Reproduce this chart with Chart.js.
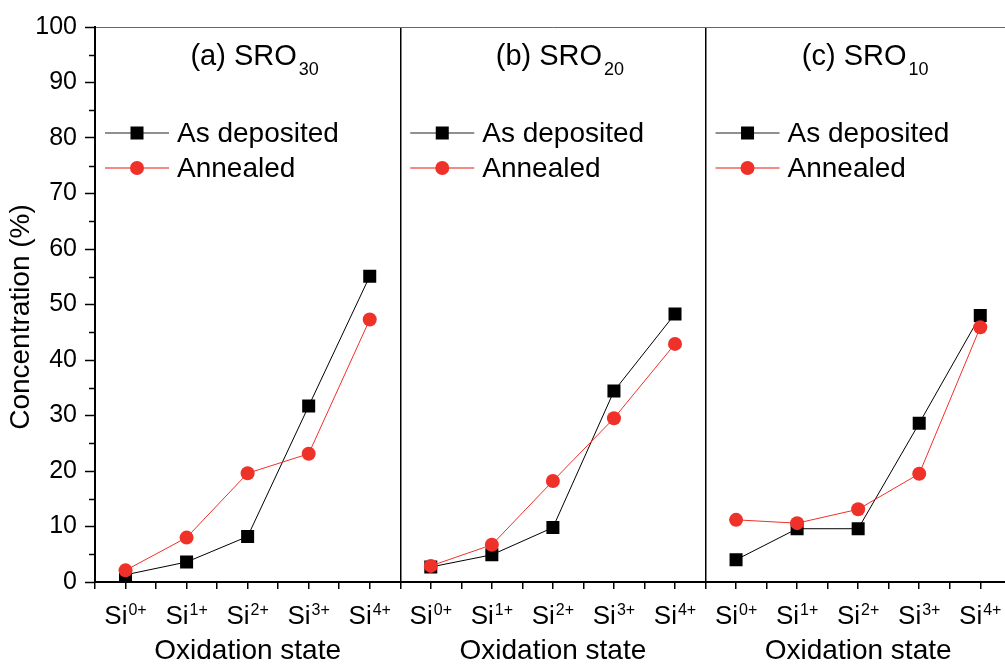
<!DOCTYPE html>
<html><head><meta charset="utf-8">
<script src="https://cdn.jsdelivr.net/npm/chart.js@4/dist/chart.umd.min.js"></script>
<style>
html,body{margin:0;padding:0;background:#fff;overflow:hidden;width:1005px;height:664px}
#wrap{width:1005px;height:664px;overflow:hidden;position:relative}
canvas{display:block}
</style></head><body>
<div id="wrap"><canvas id="c" width="1020" height="664"></canvas></div>
<script>
// ---- data ----
const categories = ['0+', '1+', '2+', '3+', '4+'];
const categoryBase = 'Si';
const panelTitles = ['(a) SRO', '(b) SRO', '(c) SRO'];
const panelSubs = ['30', '20', '10'];
const seriesNames = ['As deposited', 'Annealed'];
const asDepositedA = [1.3, 3.6, 8.2, 31.7, 55.1];
const annealedA    = [2.1, 8.0, 19.6, 23.1, 47.3];
const asDepositedB = [2.7, 4.9, 9.8, 34.4, 48.3];
const annealedB    = [2.9, 6.7, 18.2, 29.5, 42.9];
const asDepositedC = [4.0, 9.6, 9.6, 28.6, 48.0];
const annealedC    = [11.2, 10.6, 13.1, 19.5, 45.9];
const yTickValues = [0, 10, 20, 30, 40, 50, 60, 70, 80, 90, 100];
const xTitle = 'Oxidation state';
const yTitle = 'Concentration (%)';

// ---- build ----
const FONT = "'Liberation Sans', Arial, Helvetica, sans-serif";
const BLACK = '#000000';
const RED = '#ee3129';
const asDep = [asDepositedA, asDepositedB, asDepositedC];
const ann = [annealedA, annealedB, annealedC];
const nCat = categories.length;

const datasets = [];
for (let p = 0; p < 3; p++) {
  datasets.push({
    label: seriesNames[0], order: 1,
    data: asDep[p].map((v, i) => ({x: p * nCat + i, y: v})),
    borderColor: BLACK, backgroundColor: BLACK, borderWidth: 1,
    pointStyle: 'rect', pointRadius: 9.2, pointBorderWidth: 0,
    pointBackgroundColor: BLACK, tension: 0
  });
  datasets.push({
    label: seriesNames[1], order: 0,
    data: ann[p].map((v, i) => ({x: p * nCat + i, y: v})),
    borderColor: RED, backgroundColor: RED, borderWidth: 1,
    pointStyle: 'circle', pointRadius: 7, pointBorderWidth: 0,
    pointBackgroundColor: RED, tension: 0
  });
}

const panelBounds = [nCat - 0.5, 2 * nCat - 0.5];

const decor = {
  id: 'decor',
  afterDraw(chart) {
    const ctx = chart.ctx;
    const xs = chart.scales.x, ys = chart.scales.y;
    const area = chart.chartArea;
    ctx.save();
    // minor y ticks
    ctx.strokeStyle = BLACK; ctx.lineWidth = 1.5;
    for (let v = 5; v < 100; v += 10) {
      const y = Math.round(ys.getPixelForValue(v)) + 0.5;
      ctx.beginPath(); ctx.moveTo(area.left - 6, y); ctx.lineTo(area.left, y); ctx.stroke();
    }
    ctx.fillStyle = BLACK;
    ctx.textBaseline = 'alphabetic';
    for (let p = 0; p < 3; p++) {
      // category labels with superscript
      for (let i = 0; i < nCat; i++) {
        const x = xs.getPixelForValue(p * nCat + i);
        ctx.font = '26px ' + FONT;
        const w1 = ctx.measureText(categoryBase).width;
        ctx.font = '16px ' + FONT;
        const w2 = ctx.measureText(categories[i]).width;
        const start = x - (w1 + w2 + 1) / 2;
        ctx.textAlign = 'left';
        ctx.font = '26px ' + FONT;
        ctx.fillText(categoryBase, start, 624);
        ctx.font = '16px ' + FONT;
        ctx.fillText(categories[i], start + w1 + 1, 615);
      }
      const pl = xs.getPixelForValue(p * nCat - 0.5);
      const pr = xs.getPixelForValue(p * nCat + nCat - 0.5);
      const pc = (pl + pr) / 2;
      // x title
      ctx.textAlign = 'center';
      ctx.font = '28px ' + FONT;
      ctx.fillText(xTitle, pc, 659);
      // panel title
      ctx.font = '29px ' + FONT;
      const tw = ctx.measureText(panelTitles[p]).width;
      ctx.font = '18px ' + FONT;
      const sw = ctx.measureText(panelSubs[p]).width;
      const ts = pc + 7 - (tw + sw + 2) / 2;
      ctx.textAlign = 'left';
      ctx.font = '29px ' + FONT;
      ctx.fillText(panelTitles[p], ts, 65);
      ctx.font = '18px ' + FONT;
      ctx.fillText(panelSubs[p], ts + tw + 2, 75);
      // legend
      const rows = [
        {y: 133, line: '#222', lw: 1.2, color: BLACK, style: 'rect', name: seriesNames[0]},
        {y: 168, line: '#f28a86', lw: 1.8, color: RED, style: 'circle', name: seriesNames[1]}
      ];
      rows.forEach(r => {
        ctx.strokeStyle = r.line; ctx.lineWidth = r.lw;
        ctx.beginPath(); ctx.moveTo(pl + 10, r.y); ctx.lineTo(pl + 74, r.y); ctx.stroke();
        ctx.fillStyle = r.color;
        const mx = pl + 42;
        if (r.style === 'rect') {
          ctx.fillRect(mx - 6.5, r.y - 6.5, 13, 13);
        } else {
          ctx.beginPath(); ctx.arc(mx, r.y, 7, 0, Math.PI * 2); ctx.fill();
        }
        ctx.fillStyle = BLACK;
        ctx.font = '28px ' + FONT;
        ctx.textAlign = 'left'; ctx.textBaseline = 'middle';
        ctx.fillText(r.name, pl + 82, r.y + 1);
        ctx.textBaseline = 'alphabetic';
      });
    }
    // y title
    ctx.save();
    ctx.translate(21, 317);
    ctx.rotate(-Math.PI / 2);
    ctx.textAlign = 'center'; ctx.textBaseline = 'middle';
    ctx.font = '28px ' + FONT;
    ctx.fillStyle = BLACK;
    ctx.fillText(yTitle, 0, 0);
    ctx.restore();
    ctx.restore();
  }
};

new Chart(document.getElementById('c'), {
  type: 'line',
  data: {datasets},
  plugins: [decor],
  options: {
    responsive: false, animation: false, devicePixelRatio: 1,
    layout: {padding: {top: 27, right: 5, left: 0, bottom: 0}},
    plugins: {legend: {display: false}, tooltip: {enabled: false}},
    elements: {line: {fill: false}},
    scales: {
      x: {
        type: 'linear', min: -0.5, max: 3 * nCat - 0.5,
        ticks: {stepSize: 0.5, autoSkip: false, callback: () => '', font: {size: 1}},
        grid: {
          drawOnChartArea: true,
          color: c => (c.tick && panelBounds.some(b => Math.abs(c.tick.value - b) < 1e-6)) ? BLACK : 'rgba(0,0,0,0)',
          lineWidth: 1.5, tickLength: 7, tickColor: BLACK, tickWidth: 1.5
        },
        border: {display: true, color: BLACK, width: 2},
        afterFit: s => { s.height = 82; }
      },
      y: {
        min: 0, max: 100,
        afterBuildTicks: s => {
          const t = [];
          for (let v = 0; v <= 100; v += 10) t.push({value: v});
          s.ticks = t.filter(o => yTickValues.includes(o.value));
        },
        ticks: {font: {size: 25, family: FONT}, color: BLACK, padding: 8},
        grid: {
          color: c => (c.tick && c.tick.value === 100) ? '#666' : 'rgba(0,0,0,0)',
          lineWidth: 1, tickLength: 10, tickColor: BLACK, tickWidth: 1.5
        },
        border: {display: true, color: BLACK, width: 2},
        afterFit: s => { s.width = 95; }
      }
    }
  }
});
</script>
</body></html>
